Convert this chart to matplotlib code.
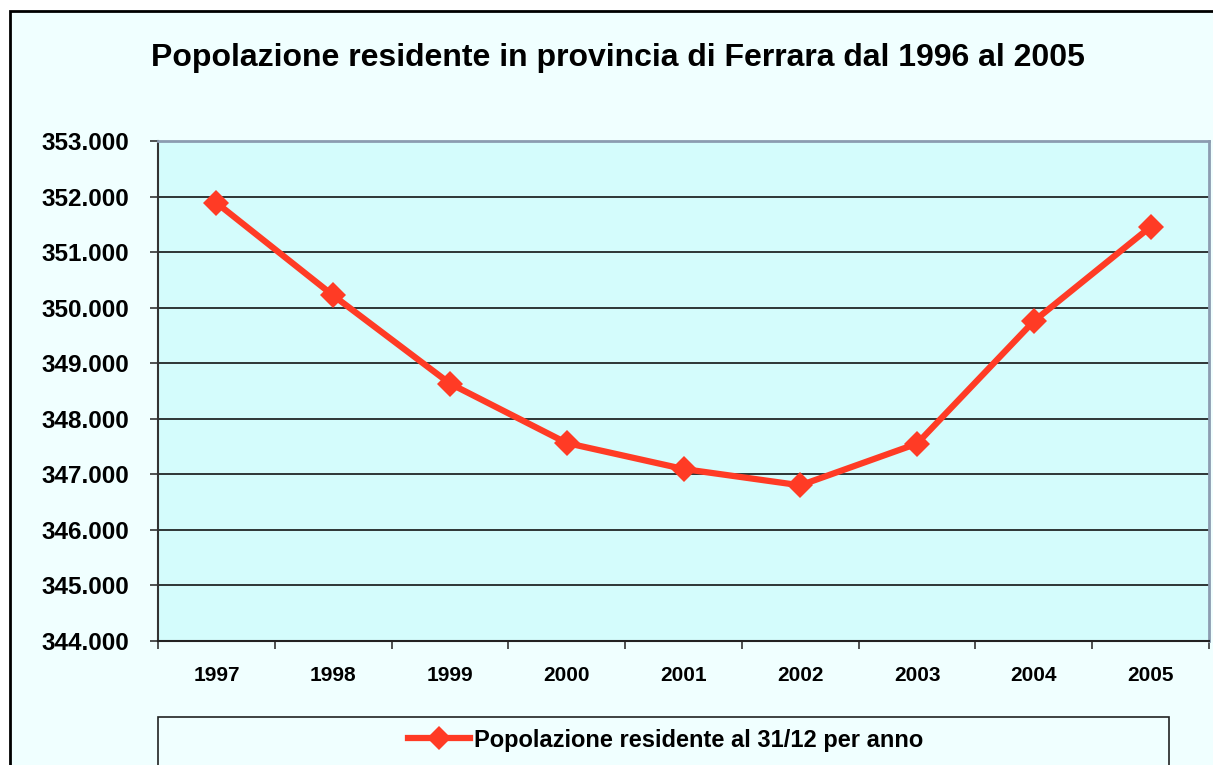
import matplotlib
matplotlib.use("Agg")
import matplotlib.pyplot as plt
from matplotlib.patches import Rectangle
from matplotlib.lines import Line2D
from matplotlib.ticker import FuncFormatter, FixedLocator

# ---- data ----
years = ["1997", "1998", "1999", "2000", "2001", "2002", "2003", "2004", "2005"]
population = [351888, 350220, 348634, 347564, 347096, 346802, 347553, 349757, 351456]
title = "Popolazione residente in provincia di Ferrara dal 1996 al 2005"
series_label = "Popolazione residente al 31/12 per anno"
y_min, y_max, y_step = 344000, 353000, 1000

W, H = 1213, 765
plt.rcParams['font.family'] = ['Liberation Sans', 'DejaVu Sans']
plt.rcParams['font.weight'] = 'bold'

fig = plt.figure(figsize=(W / 100, H / 100), dpi=100)
fig.patch.set_facecolor('white')

# outer chart frame
frame = Rectangle((10 / W, -0.2), 1.2, (H - 11) / H + 0.2, transform=fig.transFigure,
                  facecolor='#F0FFFF', edgecolor='black', linewidth=2, zorder=-2)
fig.patches.append(frame)

ax = fig.add_axes([158 / W, (H - 641) / H, (1209 - 158) / W, (641 - 141) / H])
ax.set_zorder(2)
ax.set_facecolor('#D4FCFC')

x = list(range(len(years)))
line_color = '#FF3B25'
ax.plot(x, population, color=line_color, linewidth=4.5, marker='D', markersize=13,
        markeredgewidth=0, zorder=3, solid_joinstyle='miter')

ax.set_xlim(-0.5, len(years) - 0.5)
ax.set_ylim(y_min, y_max)

# y axis
yt = list(range(y_min, y_max + 1, y_step))
ax.set_yticks(yt)
ax.yaxis.set_major_formatter(FuncFormatter(lambda v, p: f"{v:,.0f}".replace(',', '.')))
ax.tick_params(axis='y', direction='out', length=6, width=1.2, color='#333333',
               pad=15, labelsize=17.5)
for v in yt[1:-1]:
    ax.axhline(v, color='black', linewidth=1.1, zorder=1)

# x axis: labels at centers, ticks at boundaries
ax.set_xticks(x)
ax.set_xticklabels(years)
ax.tick_params(axis='x', which='major', length=0, pad=18, labelsize=15)
ax.xaxis.set_minor_locator(FixedLocator([i - 0.5 for i in range(len(years) + 1)]))
ax.tick_params(axis='x', which='minor', direction='out', length=6, width=1.2, color='#333333')

for lab in ax.get_xticklabels() + ax.get_yticklabels():
    lab.set_fontweight('bold')

ax.spines['top'].set_color('#8C9CB0')
ax.spines['top'].set_linewidth(2)
ax.spines['right'].set_color('#8C9CB0')
ax.spines['right'].set_linewidth(2)
ax.spines['left'].set_color('#333333')
ax.spines['left'].set_linewidth(1.5)
ax.spines['bottom'].set_color('#222222')
ax.spines['bottom'].set_linewidth(1.5)

# title
fig.text(618 / W, 1 - 58 / H, title, ha='center', va='center', fontsize=23,
         fontweight='bold', color='black')

# legend box
lbox = Rectangle((158 / W, -0.1), (1169 - 158) / W, (765 - 717) / H + 0.1,
                 transform=fig.transFigure, facecolor='#F0FFFF', edgecolor='#222222',
                 linewidth=1.2, zorder=-1)
fig.patches.append(lbox)
handle = Line2D([], [], color=line_color, linewidth=4.5, marker='D', markersize=12,
                markeredgewidth=0)
leg = fig.legend([handle], [series_label], loc='center', bbox_to_anchor=(666 / W, 1 - 740 / H),
                 frameon=False, handlelength=2.6, handletextpad=0.2,
                 prop={'weight': 'bold', 'size': 17})

fig.savefig('out.png', dpi=100, facecolor=fig.get_facecolor())
